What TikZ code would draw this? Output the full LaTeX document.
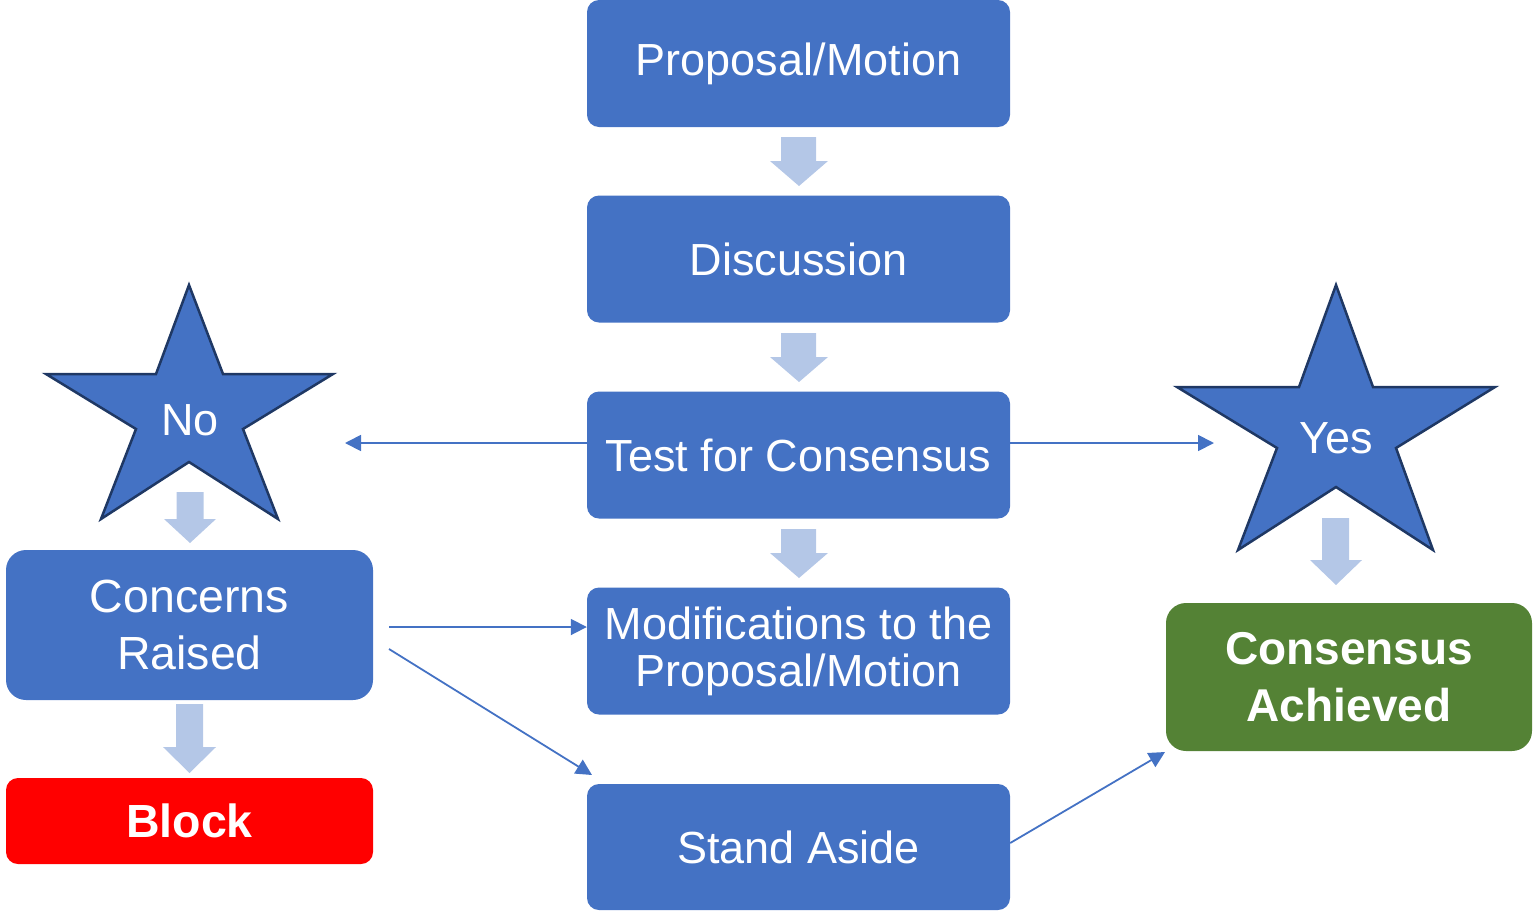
\documentclass[tikz,border=0pt]{standalone}
\usepackage{fontspec}
\setmainfont{Liberation Sans}
\usetikzlibrary{arrows.meta}
\definecolor{boxblue}{HTML}{4472C4}
\definecolor{arrowlight}{HTML}{B4C7E7}
\definecolor{starline}{HTML}{1F3864}
\definecolor{blockred}{HTML}{FF0000}
\definecolor{okgreen}{HTML}{548235}
\begin{document}
\begin{tikzpicture}[x=1pt,y=-1pt,
  stepbox/.style={rectangle, rounded corners=12pt, fill=boxblue, text=white,
    minimum width=423pt, minimum height=127pt, inner sep=0pt, align=center,
    font=\fontsize{45}{47}\selectfont},
  sidebox/.style={rectangle, rounded corners=20pt, fill=boxblue, text=white,
    minimum width=367pt, minimum height=150pt, inner sep=0pt, align=center,
    font=\fontsize{46.5}{57}\selectfont},
  blockbox/.style={rectangle, rounded corners=12pt, fill=blockred, text=white,
    minimum width=367pt, minimum height=86pt, inner sep=0pt, align=center,
    font=\fontsize{46.5}{56}\selectfont\bfseries},
  okbox/.style={rectangle, rounded corners=20pt, fill=okgreen, text=white,
    minimum width=366pt, minimum height=148pt, inner sep=0pt, align=center,
    font=\fontsize{46}{57}\selectfont\bfseries},
  starshape/.style={fill=boxblue, draw=starline, line width=2.5pt, line join=miter},
  startext/.style={text=white, inner sep=0pt, font=\fontsize{45}{47}\selectfont},
  bigarrow/.style={fill=arrowlight},
  conn/.style={draw=boxblue, line width=1.8pt, -{Triangle[length=16pt,width=16pt]}}
]
\useasboundingbox (0,0) rectangle (1536,911);

% central column
\node[stepbox] (prop)  at (798.5,63.5) {Proposal/Motion};
\node[stepbox] (disc)  at (798.5,259) {Discussion};
\node[stepbox] (test)  at (798.5,455) {Test for Consensus};
\node[stepbox] (mod)   at (798.5,651) {Modifications to the\\Proposal/Motion};
\node[stepbox, minimum height=126pt] (stand) at (798.5,847) {Stand Aside};

% left column
\node[sidebox]  (concerns) at (189.5,625) {Concerns\\Raised};
\node[blockbox] (block)    at (189.5,821) {Block};

% right column
\node[okbox] (cons) at (1349,677) {Consensus\\Achieved};

% stars
\path[starshape] (189,285) -- (223,374) -- (333,374) -- (243,429) -- (278,519)
  -- (189,462) -- (101,519) -- (136,429) -- (46,374) -- (156,374) -- cycle;
\node[startext] (no) at (190,420) {No};
\path[starshape] (1336,285) -- (1373,387) -- (1495,387) -- (1396,448) -- (1433,550)
  -- (1336,487) -- (1238,550) -- (1277,448) -- (1177,387) -- (1299,387) -- cycle;
\node[startext] (yes) at (1336,438) {Yes};

% block arrows
\fill[bigarrow] (781,137) -- (816,137) -- (816,161) -- (828,161) -- (799,186) -- (770,161) -- (781,161) -- cycle;
\fill[bigarrow] (781,333) -- (816,333) -- (816,357) -- (828,357) -- (799,382) -- (770,357) -- (781,357) -- cycle;
\fill[bigarrow] (781,529) -- (816,529) -- (816,553) -- (828,553) -- (799,578) -- (770,553) -- (781,553) -- cycle;
\fill[bigarrow] (176.5,492) -- (203.5,492) -- (203.5,519) -- (216,519) -- (190,543) -- (164,519) -- (176.5,519) -- cycle;
\fill[bigarrow] (176,704) -- (203,704) -- (203,747) -- (216,747) -- (189.5,773) -- (163,747) -- (176,747) -- cycle;
\fill[bigarrow] (1322,518) -- (1349,518) -- (1349,560) -- (1362,560) -- (1336,585) -- (1310,560) -- (1322,560) -- cycle;

% connectors
\coordinate (noend)  at (345,443);
\coordinate (yesend) at (1214,443);
\coordinate (cstartA) at (389,627);
\coordinate (cstartB) at (389,649);
\coordinate (standin) at (592,775);
\coordinate (consin)  at (1165,752);
\draw[conn] (test.west |- noend) -- (noend);
\draw[conn] (test.east |- yesend) -- (yesend);
\draw[conn] (cstartA) -- (mod.west |- cstartA);
\draw[conn] (cstartB) -- (standin);
\draw[conn] ([yshift=4pt]stand.east) -- (consin);
\end{tikzpicture}
\end{document}
